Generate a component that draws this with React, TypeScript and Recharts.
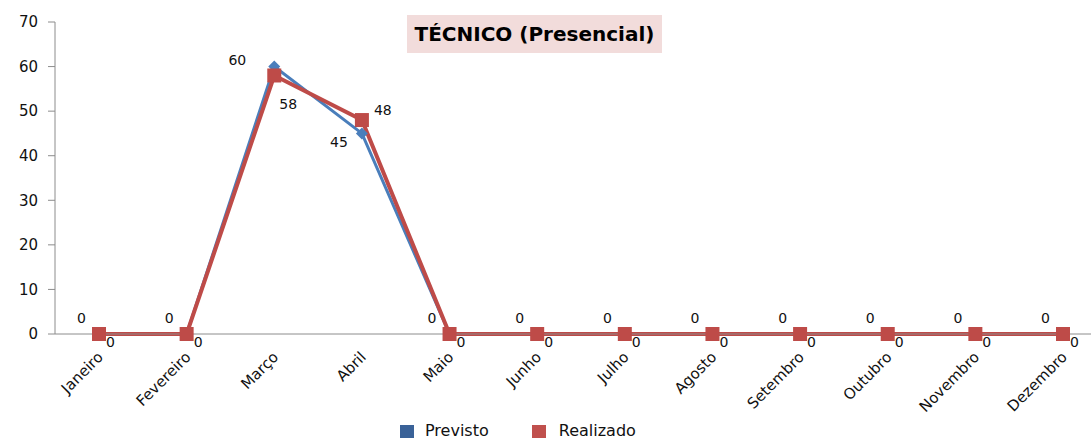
import { LineChart, Line, XAxis, YAxis } from 'recharts';

const meses = [
  'Janeiro', 'Fevereiro', 'Março', 'Abril', 'Maio', 'Junho',
  'Julho', 'Agosto', 'Setembro', 'Outubro', 'Novembro', 'Dezembro',
];
const previsto = [0, 0, 60, 45, 0, 0, 0, 0, 0, 0, 0, 0];
const realizado = [0, 0, 58, 48, 0, 0, 0, 0, 0, 0, 0, 0];
const yTicks = [0, 10, 20, 30, 40, 50, 60, 70];

const data = meses.map((mes, i) => ({ mes, previsto: previsto[i], realizado: realizado[i] }));

const BLUE = '#4A7EBB';
const RED = '#BE4B48';
const FONT = '"DejaVu Sans", Verdana, sans-serif';

const Diamond = (p: any) => {
  const { cx, cy } = p;
  if (cx == null || cy == null) return null;
  const r = 6;
  return (
    <polygon
      key={`d-${p.index}`}
      points={`${cx},${cy - r} ${cx + r},${cy} ${cx},${cy + r} ${cx - r},${cy}`}
      fill={BLUE}
    />
  );
};

const Square = (p: any) => {
  const { cx, cy } = p;
  if (cx == null || cy == null) return null;
  const s = 14;
  return <rect key={`s-${p.index}`} x={cx - s / 2} y={cy - s / 2} width={s} height={s} fill={RED} />;
};

// labels move away from the other series so they don't sit on the lines
const prevLabel = (p: any) => {
  const other = realizado[p.index];
  let dx = -13;
  let dy = -11;
  if (p.value > other) { dx = -28; dy = -2; }
  else if (p.value < other) { dx = -14; dy = 14; }
  return (
    <text key={`pl-${p.index}`} x={p.x + dx} y={p.y + dy} textAnchor="end" fontSize={14} fontFamily={FONT} fill="#111">
      {p.value}
    </text>
  );
};

const realLabel = (p: any) => {
  const other = previsto[p.index];
  let dx = 7;
  let dy = 13;
  if (p.value < other) { dx = 5; dy = 34; }
  else if (p.value > other) { dx = 12; dy = -5; }
  return (
    <text key={`rl-${p.index}`} x={p.x + dx} y={p.y + dy} textAnchor="start" fontSize={14} fontFamily={FONT} fill="#111">
      {p.value}
    </text>
  );
};

const MonthTick = (p: any) => {
  const { x, y, payload } = p;
  const tx = x + 5;
  const ty = y + 16;
  return (
    <text
      x={tx}
      y={ty}
      textAnchor="end"
      fontSize={15}
      fontFamily={FONT}
      fill="#111"
      transform={`rotate(-45, ${tx}, ${ty})`}
    >
      {payload.value}
    </text>
  );
};

export default function App() {
  return (
    <div
      style={{
        position: 'fixed',
        left: 0,
        top: 0,
        width: 1091,
        height: 439,
        overflow: 'hidden',
        background: '#fff',
      }}
    >
      <LineChart width={1107} height={439} data={data} margin={{ top: 22, right: 0, left: 0, bottom: 0 }}>
        <XAxis
          dataKey="mes"
          height={105}
          padding={{ left: 44, right: 44 }}
          tickLine={false}
          stroke="#8c8c8c"
          tick={<MonthTick />}
          interval={0}
        />
        <YAxis
          width={55}
          domain={[0, 70]}
          ticks={yTicks}
          stroke="#8c8c8c"
          tickSize={7}
          tickMargin={10}
          tick={{ fill: '#111', fontSize: 15, fontFamily: FONT }}
        />
        <Line
          dataKey="previsto"
          name="Previsto"
          stroke={BLUE}
          strokeWidth={3}
          dot={<Diamond />}
          activeDot={false}
          label={prevLabel}
          isAnimationActive={false}
        />
        <Line
          dataKey="realizado"
          name="Realizado"
          stroke={RED}
          strokeWidth={4}
          dot={<Square />}
          activeDot={false}
          label={realLabel}
          isAnimationActive={false}
        />
      </LineChart>
      <div
        style={{
          position: 'absolute',
          left: 407,
          top: 15,
          width: 255,
          height: 38,
          background: '#F2DCDB',
          display: 'flex',
          alignItems: 'center',
          justifyContent: 'center',
          fontFamily: FONT,
          fontWeight: 'bold',
          fontSize: 20,
          color: '#000',
        }}
      >
        TÉCNICO (Presencial)
      </div>
      <div
        style={{
          position: 'absolute',
          left: 400,
          top: 423,
          height: 16,
          display: 'flex',
          alignItems: 'center',
          fontFamily: FONT,
          fontSize: 16,
          lineHeight: '16px',
          color: '#111',
        }}
      >
        <span style={{ width: 14, height: 13, background: '#3A6298', display: 'inline-block', marginRight: 11 }} />
        <span style={{ marginRight: 43 }}>Previsto</span>
        <span style={{ width: 14, height: 13, background: '#C0504D', display: 'inline-block', marginRight: 13 }} />
        <span>Realizado</span>
      </div>
    </div>
  );
}
